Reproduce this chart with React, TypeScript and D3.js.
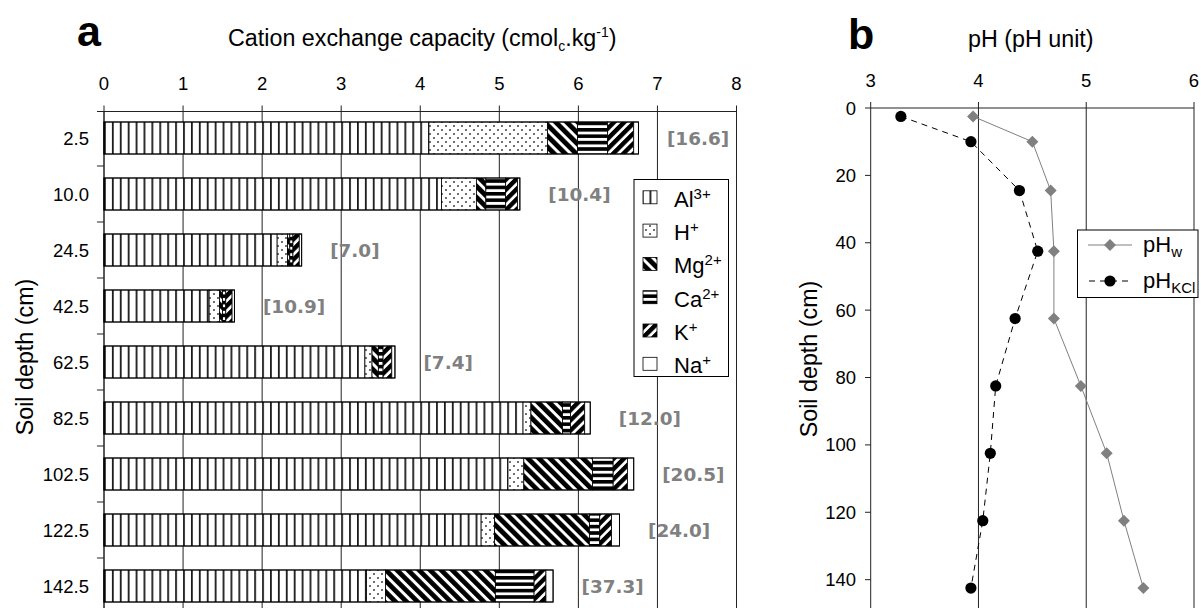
import React from "react";
import * as d3 from "d3";

const depthLabels = ["2.5", "10.0", "24.5", "42.5", "62.5", "82.5", "102.5", "122.5", "142.5"];
const alValues = [4.11, 4.27, 2.19, 1.33, 3.30, 5.30, 5.11, 4.77, 3.32];
const hValues = [1.50, 0.44, 0.13, 0.13, 0.09, 0.10, 0.20, 0.17, 0.24];
const mgValues = [0.38, 0.12, 0.03, 0.04, 0.08, 0.40, 0.87, 1.20, 1.39];
const caValues = [0.38, 0.25, 0.04, 0.04, 0.06, 0.10, 0.26, 0.13, 0.49];
const kValues = [0.33, 0.15, 0.08, 0.08, 0.11, 0.18, 0.18, 0.15, 0.15];
const naValues = [0.06, 0.03, 0.03, 0.03, 0.04, 0.07, 0.08, 0.10, 0.09];
const bracketLabels = ["[16.6]", "[10.4]", "[7.0]", "[10.9]", "[7.4]", "[12.0]", "[20.5]", "[24.0]", "[37.3]"];
const cecTicks = [0, 1, 2, 3, 4, 5, 6, 7, 8];

const phDepths = [2.5, 10, 24.5, 42.5, 62.5, 82.5, 102.5, 122.5, 142.5];
const phW = [3.95, 4.50, 4.67, 4.70, 4.70, 4.95, 5.19, 5.35, 5.53];
const phKCl = [3.28, 3.93, 4.38, 4.55, 4.34, 4.16, 4.11, 4.04, 3.93];
const phTicks = [3, 4, 5, 6];
const depthTicks = [0, 20, 40, 60, 80, 100, 120, 140];

const cationKeys = ["Al", "H", "Mg", "Ca", "K", "Na"];
const cationSeries = [alValues, hValues, mgValues, caValues, kValues, naValues];
const legendNames = [["Al", "3+"], ["H", "+"], ["Mg", "2+"], ["Ca", "2+"], ["K", "+"], ["Na", "+"]];

const FONT = "'Liberation Sans', Arial, sans-serif";

export default function App() {
  const xA = d3.scaleLinear().domain([0, 8]).range([104, 736.5]);
  const yA = d3.scaleBand<string>().domain(depthLabels).range([110, 614]).paddingInner(0).paddingOuter(0);
  const barH = 32;
  const axisTopA = 111.5;

  const xB = d3.scaleLinear().domain([3, 6]).range([870.7, 1194]);
  const yB = d3.scaleLinear().domain([0, 150]).range([108, 108 + 150 * 3.369]);

  const rows = depthLabels.map((d, i) => {
    let acc = 0;
    const segs = cationSeries.map((s, k) => {
      const x0 = acc;
      acc += s[i];
      return { key: cationKeys[k], x0, x1: acc };
    });
    return { depth: d, segs, total: acc, label: bracketLabels[i] };
  });

  const lineGen = d3
    .line<[number, number]>()
    .x((p) => xB(p[0]))
    .y((p) => yB(p[1]));
  const wPts: [number, number][] = phW.map((v, i) => [v, phDepths[i]]);
  const kPts: [number, number][] = phKCl.map((v, i) => [v, phDepths[i]]);
  const diamond = d3.symbol().type(d3.symbolSquare).size(72)()!;
  const circle = d3.symbol().type(d3.symbolCircle).size(Math.PI * 5.6 * 5.6)()!;

  const tickFs = 18.5;
  const titleFs = 23.3;

  return (
    <svg
      width={1201}
      height={608}
      style={{ position: "absolute", left: 0, top: 0, background: "#fff" }}
      fontFamily={FONT}
    >
      <defs>
        <pattern id="pAl" patternUnits="userSpaceOnUse" x={104} y={0} width={7.906} height={10}>
          <rect width={7.906} height={10} fill="#fff" />
          <rect x={0} y={0} width={1.8} height={10} fill="#1a1a1a" />
        </pattern>
        <pattern id="pH" patternUnits="userSpaceOnUse" x={0} y={0} width={8} height={8}>
          <rect width={8} height={8} fill="#fff" />
          <circle cx={2} cy={2} r={0.95} fill="#333" />
          <circle cx={6} cy={6} r={0.95} fill="#333" />
        </pattern>
        <pattern id="pMg" patternUnits="userSpaceOnUse" width={7.8} height={7.8} patternTransform="rotate(-45)">
          <rect width={7.8} height={7.8} fill="#fff" />
          <rect x={0} y={0} width={4.8} height={7.8} fill="#000" />
        </pattern>
        <pattern id="pCa" patternUnits="userSpaceOnUse" x={0} y={0} width={10} height={6.4}>
          <rect width={10} height={6.4} fill="#fff" />
          <rect x={0} y={0} width={10} height={3.6} fill="#000" />
        </pattern>
        <pattern id="pK" patternUnits="userSpaceOnUse" width={7.2} height={7.2} patternTransform="rotate(45)">
          <rect width={7.2} height={7.2} fill="#fff" />
          <rect x={0} y={0} width={4.4} height={7.2} fill="#000" />
        </pattern>
        <pattern id="pNa" patternUnits="userSpaceOnUse" width={10} height={10}>
          <rect width={10} height={10} fill="#fff" />
        </pattern>
      </defs>

      {/* ---------- Panel a ---------- */}
      <text x={77} y={46} fontSize={43} fontWeight="bold">a</text>
      <text x={228} y={45.5} fontSize={titleFs}>
        Cation exchange capacity (cmol
        <tspan fontSize={14} dy={5}>c</tspan>
        <tspan dy={-5}>.kg</tspan>
        <tspan fontSize={14} dy={-9}>-1</tspan>
        <tspan dy={9}>)</tspan>
      </text>

      {cecTicks.map((t) => (
        <line key={"g" + t} x1={xA(t)} x2={xA(t)} y1={axisTopA - 6} y2={608} stroke="#222" strokeWidth={1} />
      ))}
      {cecTicks.map((t) => (
        <text key={"tl" + t} x={xA(t)} y={90} fontSize={tickFs} textAnchor="middle">{t}</text>
      ))}
      <line x1={97} x2={xA(8)} y1={axisTopA} y2={axisTopA} stroke="#222" strokeWidth={1} />
      <line x1={104} x2={104} y1={axisTopA} y2={608} stroke="#222" strokeWidth={1} />
      {depthLabels.slice(1).map((d) => (
        <line key={"yt" + d} x1={97} x2={104} y1={yA(d)!} y2={yA(d)!} stroke="#222" strokeWidth={1} />
      ))}
      {depthLabels.map((d) => (
        <text key={"yl" + d} x={89} y={yA(d)! + yA.bandwidth() / 2 + 6.5} fontSize={tickFs} textAnchor="end">{d}</text>
      ))}
      <text transform="translate(33,357) rotate(-90)" fontSize={titleFs} textAnchor="middle">Soil depth (cm)</text>

      {rows.map((r) => {
        const y0 = yA(r.depth)! + (yA.bandwidth() - barH) / 2;
        return (
          <g key={"bar" + r.depth}>
            {r.segs.map((s) => (
              <rect
                key={s.key}
                x={xA(s.x0)}
                y={y0}
                width={Math.max(0, xA(s.x1) - xA(s.x0))}
                height={barH}
                fill={`url(#p${s.key})`}
                stroke="#000"
                strokeWidth={0.8}
              />
            ))}
            <rect x={xA(0)} y={y0} width={xA(r.total) - xA(0)} height={barH} fill="none" stroke="#000" strokeWidth={1} />
            <text
              x={xA(r.total) + 28.5}
              y={y0 + barH / 2 + 6.5}
              fontSize={18.4}
              fontWeight="bold"
              fill="#808080"
              fontFamily="'DejaVu Sans', Verdana, sans-serif"
            >
              {r.label}
            </text>
          </g>
        );
      })}

      <rect x={634} y={179.5} width={94.5} height={197} fill="#fff" stroke="#000" strokeWidth={1} />
      {legendNames.map((n, i) => {
        const cy = 197.3 + i * 33.3;
        return (
          <g key={"lg" + n[0]}>
            <rect x={643} y={cy - 6.5} width={14} height={13} fill={`url(#p${cationKeys[i]})`} stroke="#000" strokeWidth={0.8} />
            <text x={674} y={cy + 9.5} fontSize={22}>
              {n[0]}
              <tspan fontSize={15} dy={-8}>{n[1]}</tspan>
            </text>
          </g>
        );
      })}

      {/* ---------- Panel b ---------- */}
      <text x={848} y={49} fontSize={43} fontWeight="bold">b</text>
      <text x={968} y={46.5} fontSize={titleFs}>pH (pH unit)</text>

      {phTicks.map((t) => (
        <line key={"gb" + t} x1={xB(t)} x2={xB(t)} y1={yB(0) - 6} y2={608} stroke="#222" strokeWidth={1} />
      ))}
      {phTicks.map((t) => (
        <text key={"tb" + t} x={xB(t)} y={87} fontSize={tickFs} textAnchor="middle">{t}</text>
      ))}
      <line x1={xB(3)} x2={xB(6)} y1={yB(0)} y2={yB(0)} stroke="#222" strokeWidth={1} />
      {depthTicks.map((t) => (
        <line key={"dt" + t} x1={865} x2={xB(3)} y1={yB(t)} y2={yB(t)} stroke="#222" strokeWidth={1} />
      ))}
      {depthTicks.map((t) => (
        <text key={"dl" + t} x={856} y={yB(t) + 6.5} fontSize={tickFs} textAnchor="end">{t}</text>
      ))}
      <text transform="translate(817,359) rotate(-90)" fontSize={titleFs} textAnchor="middle">Soil depth (cm)</text>

      <path d={lineGen(wPts)!} fill="none" stroke="#808080" strokeWidth={1} />
      <path d={lineGen(kPts)!} fill="none" stroke="#000" strokeWidth={1} strokeDasharray="6,5" />
      {wPts.map((p, i) => (
        <path key={"dw" + i} d={diamond} transform={`translate(${xB(p[0])},${yB(p[1])}) rotate(45)`} fill="#808080" />
      ))}
      {kPts.map((p, i) => (
        <path key={"ck" + i} d={circle} transform={`translate(${xB(p[0])},${yB(p[1])})`} fill="#000" />
      ))}

      <rect x={1077.5} y={230} width={120.5} height={67.5} fill="#fff" stroke="#000" strokeWidth={1} />
      <line x1={1088} x2={1132} y1={245} y2={245} stroke="#808080" strokeWidth={1} />
      <path d={diamond} transform="translate(1110,245) rotate(45)" fill="#808080" />
      <text x={1143} y={252} fontSize={22}>
        pH<tspan fontSize={15} dy={5}>w</tspan>
      </text>
      <line x1={1088} x2={1132} y1={281} y2={281} stroke="#000" strokeWidth={1} strokeDasharray="6,5" strokeDashoffset={-1} />
      <path d={circle} transform="translate(1110,281)" fill="#000" />
      <text x={1143} y={288} fontSize={22}>
        pH<tspan fontSize={15} dy={5}>KCl</tspan>
      </text>
    </svg>
  );
}
